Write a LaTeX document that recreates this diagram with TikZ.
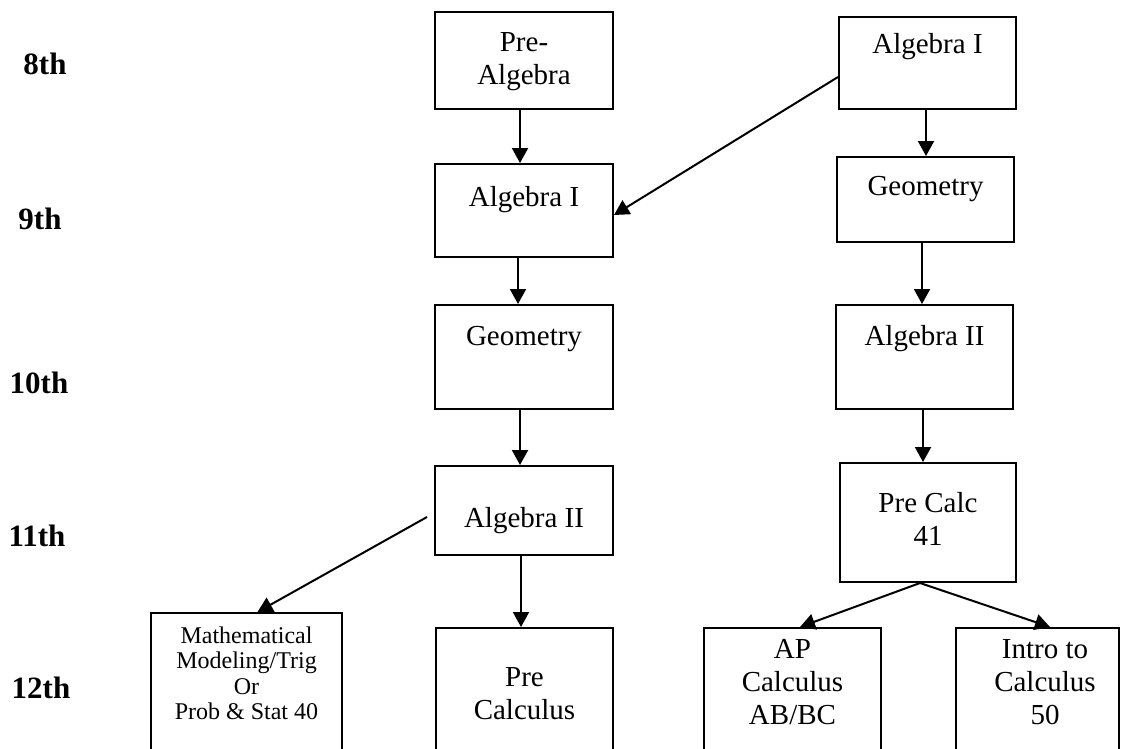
\documentclass[tikz,border=0pt]{standalone}
\usepackage{fontspec}
\setmainfont{Liberation Serif}
\usetikzlibrary{arrows.meta}
\begin{document}
\begin{tikzpicture}[x=1pt,y=-1pt,
  box/.style={draw=black, line width=2pt, inner sep=0pt},
  txt/.style={anchor=north, inner sep=0pt, align=center,
    font=\fontsize{29}{33}\selectfont, execute at begin node={\strut}},
  smalltxt/.style={anchor=north, inner sep=0pt, align=center,
    font=\fontsize{24}{25.5}\selectfont, execute at begin node={\strut}},
  grade/.style={inner sep=0pt, font=\bfseries\fontsize{31}{31}\selectfont},
  arr/.style={line width=2pt, -{Triangle[width=16pt,length=15pt]}}]
\useasboundingbox (0,0) rectangle (1121,748);
\clip (0,0) rectangle (1121,748);

% grade labels
\node[grade] (g8)  at (45,64)  {8th};
\node[grade] (g9)  at (40,219) {9th};
\node[grade] (g10) at (39,383) {10th};
\node[grade] (g11) at (37,536) {11th};
\node[grade] (g12) at (41,688) {12th};

% boxes
\node[box, minimum width=178pt, minimum height=97pt]  (PA)    at (524,60.5)   {};
\node[box, minimum width=177pt, minimum height=92pt]  (A1R)   at (927.5,63)   {};
\node[box, minimum width=178pt, minimum height=93pt]  (A1L)   at (524,210.5)  {};
\node[box, minimum width=177pt, minimum height=85pt]  (GR)    at (925.5,199.5){};
\node[box, minimum width=178pt, minimum height=104pt] (GL)    at (524,357)    {};
\node[box, minimum width=177pt, minimum height=104pt] (A2R)   at (924.5,357)  {};
\node[box, minimum width=178pt, minimum height=89pt]  (A2L)   at (524,510.5)  {};
\node[box, minimum width=176pt, minimum height=119pt] (PC41)  at (928,522.5)  {};
\node[box, minimum width=191pt, minimum height=147pt] (Math)  at (246.5,686.5){};
\node[box, minimum width=177pt, minimum height=132pt] (PCalc) at (524.5,694)  {};
\node[box, minimum width=177pt, minimum height=132pt] (AP)    at (792.5,694)  {};
\node[box, minimum width=163pt, minimum height=132pt] (Intro) at (1037.5,694) {};

% texts
\node[txt] (tPA)    at (524,32)    {Pre-\\Algebra};
\node[txt] (tA1R)   at (927.5,30)  {Algebra I};
\node[txt] (tA1L)   at (524,183)   {Algebra I};
\node[txt] (tGR)    at (925.5,172) {Geometry};
\node[txt] (tGL)    at (524,322)   {Geometry};
\node[txt] (tA2R)   at (924.5,322) {Algebra II};
\node[txt] (tA2L)   at (524,504)   {Algebra II};
\node[txt] (tPC41)  at (928,492)   {Pre Calc\\41};
\node[smalltxt] (tMath) at (246.5,626.5) {Mathematical\\Modeling/Trig\\Or\\Prob \& Stat 40};
\node[txt] (tPCalc) at (524.5,667) {Pre\\Calculus};
\node[txt] (tAP)    at (792.5,639) {AP\\Calculus\\AB/BC};
\node[txt] (tIntro) at (1045,639)  {Intro to\\Calculus\\50};

% connectors
\draw[arr] ([xshift=-4pt]PA.south) -- ([xshift=-4pt]PA.south |- A1L.north);
\draw[arr] ([xshift=-1.5pt]A1R.south) -- ([xshift=-1.5pt]A1R.south |- GR.north);
\draw[arr] ([yshift=-14pt]A1R.west) -- ([yshift=-4.5pt]A1L.east);
\draw[arr] ([xshift=-6pt]A1L.south) -- ([xshift=-6pt]A1L.south |- GL.north);
\draw[arr] ([xshift=-3.5pt]GR.south) -- ([xshift=-3.5pt]GR.south |- A2R.north);
\draw[arr] ([xshift=-4pt]GL.south) -- ([xshift=-4pt]GL.south |- A2L.north);
\draw[arr] ([xshift=-1.5pt]A2R.south) -- ([xshift=-1.5pt]A2R.south |- PC41.north);
\draw[arr] ([xshift=-3pt]A2L.south) -- ([xshift=-3pt]A2L.south |- PCalc.north);
\coordinate (mstart) at ([xshift=-7pt,yshift=-6.5pt]A2L.west);
\draw[arr] (mstart) -- ([xshift=11pt]Math.north);
\draw[arr] ([xshift=-8pt]PC41.south) -- ([xshift=7.5pt]AP.north);
\draw[arr] ([xshift=-8pt]PC41.south) -- ([xshift=12.5pt]Intro.north);
\end{tikzpicture}
\end{document}
